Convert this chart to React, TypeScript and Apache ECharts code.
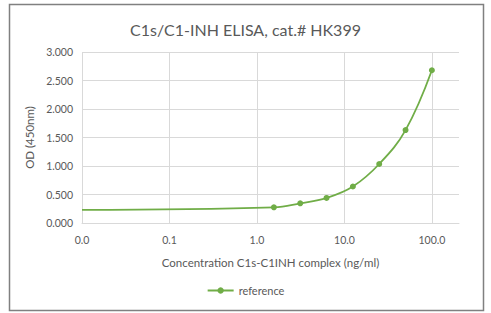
import React, { useEffect, useRef } from "react";
import * as echarts from "echarts";

const titleText = "C1s/C1-INH ELISA, cat.# HK399";
const xAxisName = "Concentration C1s-C1INH complex (ng/ml)";
const yAxisName = "OD (450nm)";
const seriesName = "reference";
// concentration (ng/ml); first point is the blank drawn at the axis start without a marker
const concentrations = [0.01, 1.5625, 3.125, 6.25, 12.5, 25, 50, 100];
const odValues = [0.23, 0.275, 0.345, 0.44, 0.64, 1.035, 1.63, 2.68];
const xLogMin = -2;
const xLogMax = 2.31;

const FONT = "Lato, 'Open Sans', sans-serif";
const GREEN = "#70AD47";
const TEXT = "#595959";
const GRID = "#d9d9d9";

export default function App() {
  const ref = useRef<HTMLDivElement>(null);
  useEffect(() => {
    if (!ref.current) return;
    const chart = echarts.init(ref.current, undefined, { renderer: "svg" });
    const data = concentrations.map((c, i) => {
      const item: any = { value: [Math.log10(c), odValues[i]] };
      if (i === 0) item.symbol = "none";
      return item;
    });
    chart.setOption({
      animation: false,
      backgroundColor: "#ffffff",
      textStyle: { fontFamily: FONT },
      title: {
        text: titleText,
        left: "center",
        top: 16,
        textStyle: { fontFamily: FONT, fontSize: 16, fontWeight: "normal", color: TEXT },
      },
      graphic: [
        {
          type: "rect",
          shape: { x: 9.5, y: 4.5, width: 474, height: 306 },
          style: { fill: "none", stroke: "#808080", lineWidth: 1.5 },
          silent: true,
        },
      ],
      grid: { left: 82, right: 32, top: 52, bottom: 90, containLabel: false },
      legend: {
        bottom: 12,
        left: "center",
        itemWidth: 26,
        itemHeight: 8,
        itemGap: 4,
        textStyle: { fontFamily: FONT, fontSize: 11, color: TEXT },
        data: [seriesName],
      },
      xAxis: {
        type: "value",
        min: xLogMin,
        max: xLogMax,
        interval: 1,
        name: xAxisName,
        nameLocation: "middle",
        nameGap: 33,
        nameTextStyle: { fontFamily: FONT, fontSize: 11.5, color: TEXT },
        axisLine: { show: true, lineStyle: { color: GRID } },
        axisTick: { show: false },
        axisLabel: {
          showMaxLabel: false,
          margin: 11,
          fontFamily: FONT,
          fontSize: 10.5,
          color: TEXT,
          formatter: (v: number) => Math.pow(10, v).toFixed(1),
        },
        splitLine: {
          show: true,
          lineStyle: { color: [GRID, GRID, GRID, GRID, GRID, "rgba(0,0,0,0)"] },
        },
      },
      yAxis: {
        type: "value",
        min: 0,
        max: 3,
        interval: 0.5,
        name: yAxisName,
        nameLocation: "middle",
        nameGap: 47,
        nameTextStyle: { fontFamily: FONT, fontSize: 11.5, color: TEXT },
        axisLine: { show: false },
        axisTick: { show: false },
        axisLabel: {
          margin: 9,
          fontFamily: FONT,
          fontSize: 10.5,
          color: TEXT,
          formatter: (v: number) => v.toFixed(3),
        },
        splitLine: { show: true, lineStyle: { color: GRID } },
      },
      series: [
        {
          name: seriesName,
          type: "line",
          smooth: 0.4,
          data,
          symbol: "circle",
          symbolSize: 6,
          showSymbol: true,
          lineStyle: { color: GREEN, width: 1.8 },
          itemStyle: { color: GREEN },
        },
      ],
    });
    return () => chart.dispose();
  }, []);
  return (
    <div
      ref={ref}
      style={{ position: "fixed", left: 0, top: 0, width: 491, height: 313 }}
    />
  );
}
